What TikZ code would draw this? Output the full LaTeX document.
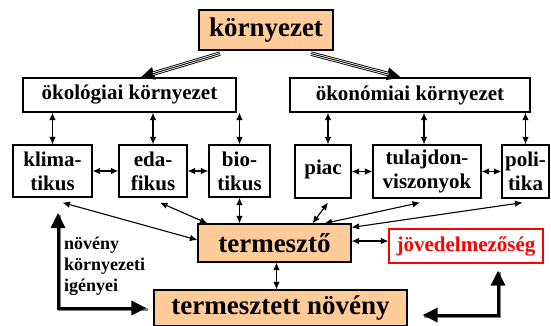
\documentclass[tikz,border=0pt]{standalone}
\usepackage{fontspec}
\setmainfont{Liberation Serif}
\usetikzlibrary{arrows.meta}
\definecolor{peach}{HTML}{FFCC99}

\begin{document}
\begin{tikzpicture}[x=1pt,y=-1pt]
    \tikzset{box/.style = {draw,line width=1.2pt,inner sep=0pt,align=center,
        font=\fontsize{21}{24}\selectfont\bfseries}}
    \tikzset{main/.style = {box,fill=peach,font=\fontsize{27}{30}\selectfont\bfseries}}
    \tikzset{edge/.style = {{Latex[length=7.5pt,width=6.5pt]}-{Latex[length=7.5pt,width=6.5pt]},line width=1.1pt}}
    \tikzset{feed/.style = {-{Triangle[length=14pt,width=12pt]},line width=4.4pt,
        postaction={draw=white,-,line width=2.6pt,shorten >=13pt},
        postaction={draw=black,-,line width=0.9pt,shorten >=13pt}}}
    \tikzset{need/.style = {{Triangle[length=15pt,width=14pt]}-{Triangle[length=15pt,width=14pt]},line width=3pt,
        preaction={draw=gray,-,line width=3pt,transform canvas={shift={(1.5pt,-1.5pt)}}}}}
    \useasboundingbox (0,0) rectangle (551,325);
    % boxes
    \node[main,minimum width=134pt,minimum height=40pt] (env) at (266,30) {környezet};
    \node[box,minimum width=213pt,minimum height=34pt] (eco) at (129.5,95) {ökológiai környezet};
    \node[box,minimum width=240pt,minimum height=34pt] (econ) at (410,95) {ökonómiai környezet};
    \node[box,minimum width=79pt,minimum height=52pt] (klima) at (52.5,171) {klima-\\tikus};
    \node[box,minimum width=68pt,minimum height=52pt] (eda) at (153,171) {eda-\\fikus};
    \node[box,minimum width=61pt,minimum height=52pt] (bio) at (239.5,171) {bio-\\tikus};
    \node[box,minimum width=56pt,minimum height=53pt] (piac) at (323,171.5) {\raisebox{8pt}{piac}};
    \node[box,minimum width=108pt,minimum height=53pt] (tul) at (427,171.5) {tulajdon-\\viszonyok};
    \node[box,minimum width=47pt,minimum height=53pt] (pol) at (525.5,171.5) {poli-\\tika};
    \node[main,minimum width=153pt,minimum height=38pt] (term) at (274.5,243) {termesztő};
    \node[box,draw=red,text=red,fill=white,minimum width=154pt,minimum height=34pt,
        font=\fontsize{21}{23}\selectfont\bfseries] (jov) at (466,246) {jövedelmezőség};
    \node[main,minimum width=253pt,minimum height=36pt] (nov) at (280.5,308) {termesztett növény};
    \node[align=left,anchor=north west,inner sep=0pt,font=\fontsize{18}{21}\selectfont\bfseries]
        (igeny) at (64,237) {növény\\környezeti\\igényei};
    \coordinate (needtop) at (58,213);
    % edges
    \draw[feed] ([xshift=-46pt,yshift=-3pt]env.south) -- ([xshift=11pt]eco.north);
    \draw[feed] ([xshift=45pt,yshift=-3pt]env.south) -- ([xshift=-9pt]econ.north);
    \draw[edge] (eco.south -| klima.north) -- (klima.north);
    \draw[edge] (eco.south -| eda.north) -- (eda.north);
    \draw[edge] (eco.south -| bio.north) -- (bio.north);
    \draw[edge] ([xshift=5pt]econ.south -| piac.north) -- ([xshift=5pt]piac.north);
    \draw[edge] ([xshift=-3pt]econ.south -| tul.north) -- ([xshift=-3pt]tul.north);
    \draw[edge] (econ.south -| pol.north) -- (pol.north);
    \draw[edge] (klima.east) -- (eda.west);
    \draw[edge] (eda.east) -- (bio.west);
    \draw[edge] (piac.east) -- (tul.west);
    \draw[edge] (tul.east) -- (pol.west);
    \draw[edge] ([xshift=10pt,yshift=-5pt]klima.south) -- ([yshift=3pt]term.west);
    \draw[edge] ([xshift=7pt,yshift=-5pt]eda.south) -- ([xshift=10pt]term.north west);
    \draw[edge] (bio.south) -- (bio.south |- term.north);
    \draw[edge] ([xshift=5pt,yshift=-4pt]piac.south) -- ([xshift=38pt]term.north);
    \draw[edge] ([xshift=-7pt,yshift=-4pt]tul.south) -- ([xshift=50pt]term.north);
    \draw[edge] ([xshift=-3pt,yshift=-4pt]pol.south) -- ([yshift=-4pt]term.north east);
    \draw[edge] ([yshift=2pt]term.east) -- ([yshift=2pt]term.east -| jov.west);
    \draw[edge] ([xshift=2pt]term.south) -- ([xshift=2pt]term.south |- nov.north);
    \draw[need] (needtop) |- ([xshift=-7pt]nov.west);
    \draw[need] ([xshift=15pt,yshift=-7pt]nov.east) -| ([xshift=32pt,yshift=-7pt]jov.south);
\end{tikzpicture}
\end{document}
